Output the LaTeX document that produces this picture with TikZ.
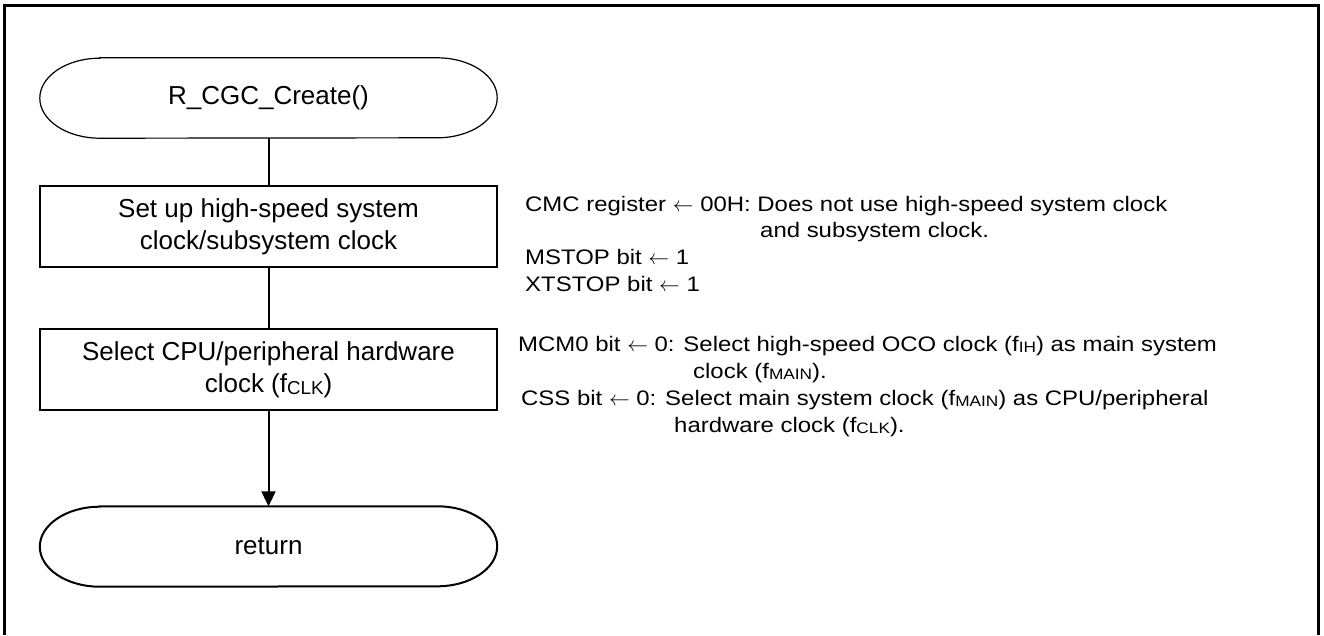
\documentclass[tikz,border=0pt]{standalone}
\usepackage{fontspec}
\setmainfont{Liberation Sans}
\newfontfamily\annfont[FakeStretch=1.14]{Liberation Sans}
\usetikzlibrary{arrows.meta}
\newcommand\lowsub[1]{\raisebox{-0.09em}{\scalebox{0.72}{#1}}}
\begin{document}
\begin{tikzpicture}[x=1pt,y=-1pt,
  proc/.style={draw,line width=2pt,minimum width=457pt,minimum height=81pt,inner sep=0pt,align=center,font=\fontsize{26}{32}\selectfont},
  term/.style={minimum width=457pt,minimum height=80pt,inner sep=0pt,font=\fontsize{26}{32}\selectfont},
  ann/.style={anchor=base west,inner sep=0pt,font=\annfont\fontsize{21}{25}\selectfont},
  conn/.style={line width=2pt}]
\useasboundingbox (0,0) rectangle (1324,635);
\draw[line width=3pt] (4.5,635) -- (4.5,5) -- (1318.5,5) -- (1318.5,635);

\node[term] (start) at (268.5,98) {R\_CGC\_Create()};
\node[proc] (b1) at (268.5,226.5) {Set up high-speed system\\clock/subsystem clock};
\node[proc] (b2) at (268.5,369.5) {Select CPU/peripheral hardware\\clock (f\lowsub{CLK})};
\node[term] (ret) at (268.5,546.5) {return};

\draw[line width=1.2pt] ([xshift=60pt]start.north west) -- ([xshift=-60pt]start.north east)
  arc[start angle=90,end angle=-90,x radius=60pt,y radius=40pt]
  -- ([xshift=60pt]start.south west)
  arc[start angle=270,end angle=90,x radius=60pt,y radius=40pt] -- cycle;
\draw[line width=2pt] ([xshift=60pt]ret.north west) -- ([xshift=-60pt]ret.north east)
  arc[start angle=90,end angle=-90,x radius=60pt,y radius=40pt]
  -- ([xshift=60pt]ret.south west)
  arc[start angle=270,end angle=90,x radius=60pt,y radius=40pt] -- cycle;

\draw[conn] (start.south) -- (b1.north);
\draw[conn] (b1.south) -- (b2.north);
\draw[conn,-{Triangle[width=14pt,length=15pt]}] (b2.south) -- (ret.north);

\node[ann] (a1) at (525,211) {CMC register $\leftarrow$ 00H: Does not use high-speed system clock};
\node[ann] (a2) at (760,237) {and subsystem clock.};
\node[ann] (a3) at (525,264) {MSTOP bit $\leftarrow$ 1};
\node[ann] (a4) at (525,291) {XTSTOP bit $\leftarrow$ 1};
\node[ann] (a5) at (518,351) {MCM0 bit $\leftarrow$ 0: Select high-speed OCO clock (f\lowsub{IH}) as main system};
\node[ann] (a6) at (693,378) {clock (f\lowsub{MAIN}).};
\node[ann] (a7) at (521,405) {CSS bit $\leftarrow$ 0: Select main system clock (f\lowsub{MAIN}) as CPU/peripheral};
\node[ann] (a8) at (674,432) {hardware clock (f\lowsub{CLK}).};
\end{tikzpicture}
\end{document}
